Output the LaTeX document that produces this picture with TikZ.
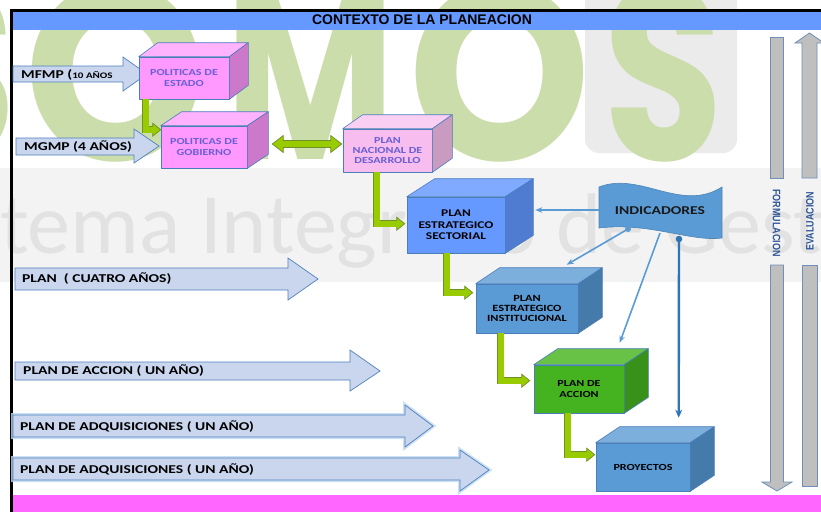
\documentclass[tikz,border=0pt]{standalone}
\usepackage{fontspec}
\usepackage{graphicx}
\setmainfont{Carlito}
\newfontfamily\boxfont[FakeStretch=1.3]{Carlito}
\newfontfamily\headfont{Liberation Sans}
\newfontfamily\markfont{Poppins}
\usetikzlibrary{calc,arrows.meta}

\definecolor{titleblue}{HTML}{6699FF}
\definecolor{barpink}{HTML}{FF66FF}
\definecolor{bandfill}{HTML}{C9D6EE}
\definecolor{bandline}{HTML}{4F81BD}
\definecolor{bandglow}{HTML}{BFD9F2}
\definecolor{pinkfront}{HTML}{FF99FF}
\definecolor{pinktop}{HTML}{FFB3FF}
\definecolor{pinkside}{HTML}{CC79CC}
\definecolor{rosefront}{HTML}{F7BDEF}
\definecolor{rosetop}{HTML}{F9CFF4}
\definecolor{roseside}{HTML}{C99BC0}
\definecolor{secfront}{HTML}{6699FF}
\definecolor{sectop}{HTML}{80AAFF}
\definecolor{secside}{HTML}{4F7CD0}
\definecolor{insfront}{HTML}{5B9BD5}
\definecolor{instop}{HTML}{7DAFDD}
\definecolor{insside}{HTML}{457BAA}
\definecolor{accfront}{HTML}{45B31F}
\definecolor{acctop}{HTML}{67C245}
\definecolor{accside}{HTML}{389219}
\definecolor{edgeblue}{HTML}{4A7EBB}
\definecolor{violettext}{HTML}{6A5FD3}
\definecolor{greenfill}{HTML}{99CC00}
\definecolor{greenline}{HTML}{6F8F2A}
\definecolor{lightarrow}{HTML}{5B9BD5}
\definecolor{darkarrow}{HTML}{2E75B6}
\definecolor{barfill}{HTML}{BFBFBF}
\definecolor{barline}{HTML}{6F8FB8}
\definecolor{vtext}{HTML}{2F5597}
\definecolor{markgreen}{HTML}{CBDDAB}
\definecolor{markgray}{HTML}{E2E2E2}
\definecolor{markband}{HTML}{F3F3F3}
\definecolor{markbox}{HTML}{EBEBEB}

% top and side faces of a box node: name, dx, dy, top colour, side colour
\newcommand{\cube}[5]{%
  \filldraw[cubeface,fill=#4] (#1.north west) -- ++(#2pt,#3pt) -- ([shift={(#2pt,#3pt)}]#1.north east) -- (#1.north east) -- cycle;
  \filldraw[cubeface,fill=#5] (#1.north east) -- ++(#2pt,#3pt) -- ([shift={(#2pt,#3pt)}]#1.south east) -- (#1.south east) -- cycle;}

% green elbow from coordinate #1 down and right to coordinate #2
\newcommand{\greenstep}[2]{%
  \draw[greenline,line width=7pt,line join=miter] (#1) |- ($(#2)+(-7pt,0)$);
  \filldraw[greenblock] (#2) -- ++(-8pt,6.5pt) -- ++(0,-13pt) -- cycle;
  \draw[greenfill,line width=5.6pt,line join=miter] (#1) |- ($(#2)+(-7pt,0)$);}

\begin{document}
\begin{tikzpicture}[x=1pt,y=-1pt,
  cubeface/.style={draw=edgeblue,line width=.6pt,line join=round},
  cubebox/.style={cubeface,inner sep=0pt,align=center,font=\boxfont\bfseries\fontsize{9.3}{10.3}\selectfont},
  bandarrow/.style={fill=bandfill,draw=bandline,line width=.7pt,line join=miter},
  bandlabel/.style={anchor=west,inner sep=0pt,font=\boxfont\bfseries\fontsize{12}{14}\selectfont},
  glow/.style={preaction={draw=bandglow,line width=4pt,opacity=.8}},
  greenblock/.style={fill=greenfill,draw=greenline,line width=.7pt,line join=miter},
  indarrow/.style={lightarrow,line width=1.6pt,-{Stealth[length=7pt,width=5.5pt]}},
  inddark/.style={darkarrow,line width=2.4pt,-{Stealth[length=8pt,width=7pt]}},
  grayshaft/.style={fill=barfill,draw=barline,line width=.8pt,line join=miter},
  sidetext/.style={inner sep=0pt,text=vtext,font=\headfont\bfseries\fontsize{9}{10}\selectfont},
  markletter/.style={inner sep=0pt,text=markgreen,font=\markfont\bfseries\fontsize{250}{250}\selectfont}]
\useasboundingbox (0,0) rectangle (821,512);

% watermark
\begin{scope}
\clip (0,0) rectangle (821,512);
\fill[white] (0,0) rectangle (821,512);
\fill[markband] (0,168) rectangle (821,282);
\fill[markbox,rounded corners=14pt] (585,-30) rectangle (737,153);
\node[markletter] (ws1) at (-48,72) {\scalebox{.85}[1]{S}};
\node[markletter] (wo1) at (116,72) {\scalebox{.93}[1]{O}};
\node[markletter] (wm) at (310,72) {\scalebox{.74}[1]{M}};
\node[markletter] (wo2) at (500,72) {\scalebox{.93}[1]{O}};
\node[markletter] (ws2) at (663,72) {\scalebox{.78}[1]{S}};
\node[anchor=base west,inner sep=0pt,text=markgray,font=\fontsize{86}{86}\selectfont] (wtext) at (-92,253) {Sistema Integrado de Gestión};
\end{scope}

% frame
\fill[black] (10,9) rectangle (821,11.5);
\fill[black] (10,9) rectangle (12.5,512);
\fill[titleblue] (12.5,11.5) rectangle (821,30);
\fill[barpink] (12.5,495) rectangle (821,512);
\node[inner sep=0pt,font=\headfont\bfseries\fontsize{14}{16}\selectfont] (title) at (422,20) {CONTEXTO DE LA PLANEACION};

% horizons
\filldraw[bandarrow] (13,66) -- (123,66) -- (123,57) -- (147,74) -- (123,91) -- (123,82) -- (13,82) -- cycle;
\filldraw[bandarrow] (16,138) -- (134,138) -- (134,129) -- (159,146) -- (134,163) -- (134,155) -- (16,155) -- cycle;
\filldraw[bandarrow] (15,268) -- (288,268) -- (288,258) -- (318,279) -- (288,300) -- (288,290) -- (15,290) -- cycle;
\filldraw[bandarrow] (15,362) -- (350,362) -- (350,350) -- (380,371) -- (350,391) -- (350,380) -- (15,380) -- cycle;
\filldraw[bandarrow,glow] (13,415) -- (405,415) -- (405,405) -- (433,426) -- (405,447) -- (405,437) -- (13,437) -- cycle;
\filldraw[bandarrow,glow] (13,458) -- (460,458) -- (460,450) -- (489,470) -- (460,491) -- (460,480) -- (13,480) -- cycle;

\node[bandlabel] (lmfmp) at (21,75) {MFMP (\fontsize{8.5}{10}\selectfont10 AÑOS};
\node[bandlabel] (lmgmp) at (24,147) {MGMP (4 AÑOS)};
\node[bandlabel] (lplan) at (22,279) {PLAN\ \ ( CUATRO AÑOS)};
\node[bandlabel] (laccion) at (23,371) {PLAN DE ACCION ( UN AÑO)};
\node[bandlabel] (ladq) at (20,427) {PLAN DE ADQUISICIONES ( UN AÑO)};
\node[bandlabel] (ladqb) at (20,470) {PLAN DE ADQUISICIONES ( UN AÑO)};

% boxes
\node[cubebox,fill=pinkfront,text=violettext,minimum width=90pt,minimum height=42pt] (pe) at (184,78) {POLITICAS DE\\ESTADO};
\cube{pe}{19}{14}{pinktop}{pinkside}
\node[cubebox,fill=pinkfront,text=violettext,minimum width=86pt,minimum height=42pt] (pg) at (204,147) {POLITICAS DE\\GOBIERNO};
\cube{pg}{21}{14}{pinktop}{pinkside}
\node[cubebox,fill=rosefront,text=violettext,minimum width=89pt,minimum height=43pt] (pn) at (387.5,150.5) {PLAN\\NACIONAL DE\\DESARROLLO};
\cube{pn}{20}{14}{rosetop}{roseside}
\node[cubebox,fill=secfront,minimum width=98pt,minimum height=56pt,font=\boxfont\bfseries\fontsize{10.3}{11.5}\selectfont] (ps) at (456,225) {PLAN\\ESTRATEGICO\\SECTORIAL};
\cube{ps}{28}{18}{sectop}{secside}
\node[cubebox,fill=insfront,minimum width=102pt,minimum height=49pt,font=\boxfont\bfseries\fontsize{9.5}{10}\selectfont] (pi) at (527,308.5) {PLAN\\ESTRATEGICO\\INSTITUCIONAL};
\cube{pi}{24}{16}{instop}{insside}
\node[cubebox,fill=accfront,minimum width=90pt,minimum height=48pt] (pa) at (579,389) {PLAN DE\\ACCION};
\cube{pa}{24}{16}{acctop}{accside}
\node[cubebox,fill=insfront,minimum width=94pt,minimum height=48pt] (pp) at (643,467) {PROYECTOS};
\cube{pp}{24}{16}{instop}{insside}

% green links
\coordinate (e1a) at ([xshift=7pt]pe.south west);
\coordinate (e1b) at ([yshift=-4pt]pg.north west);
\coordinate (e2a) at ([xshift=34pt]pn.south west);
\coordinate (e2b) at ([shift={(-2pt,-27pt)}]ps.north west);
\coordinate (e3a) at ([xshift=40pt]ps.south west);
\coordinate (e3b) at ([shift={(-3pt,-9pt)}]pi.north west);
\coordinate (e4a) at ([xshift=25pt]pi.south west);
\coordinate (e4b) at ([shift={(-4pt,-16pt)}]pa.north west);
\coordinate (e5a) at ([xshift=34pt]pa.south west);
\coordinate (e5b) at ([shift={(-1pt,-12pt)}]pp.north west);
\greenstep{e1a}{e1b}
\greenstep{e2a}{e2b}
\greenstep{e3a}{e3b}
\greenstep{e4a}{e4b}
\greenstep{e5a}{e5b}

\coordinate (gl) at ([shift={(25pt,3pt)}]pg.east);
\coordinate (gr) at ([shift={(-1pt,6.5pt)}]pn.west);
\filldraw[greenblock] (gl) -- ++(11pt,8.5pt) -- ++(0,-5pt) -- ($(gr)+(-11pt,3.5pt)$) -- ++(0,5pt) -- (gr) -- ++(-11pt,-8.5pt) -- ++(0,5pt) -- ($(gl)+(11pt,-3.5pt)$) -- ++(0,-5pt) -- cycle;

% indicadores
\filldraw[fill=insfront,draw=insfront!85!black,line width=.6pt] (599,187) .. controls (640,171) and (681,213) .. (722,187) -- (722,238) .. controls (690,242) and (650,222) .. (599,228) -- cycle;
\node[inner sep=0pt,text=black!90,font=\boxfont\bfseries\fontsize{12}{14}\selectfont] (ind) at (660,211) {INDICADORES};
\coordinate (iw) at (599,210);
\coordinate (d1) at (628,229);
\coordinate (d2) at (660,233);
\coordinate (d3) at (679,239);
\draw[indarrow] (iw) -- ([shift={(30pt,15pt)}]ps.east);
\fill[lightarrow] (d1) circle (3pt);
\draw[indarrow] (d1) -- ([shift={(91pt,19pt)}]pi.north west);
\draw[indarrow] (d2) -- ([shift={(86pt,22pt)}]pa.north west);
\fill[darkarrow] (d3) circle (3.3pt);
\draw[inddark] (d3) -- ([shift={(83pt,25pt)}]pp.north west);

% formulacion / evaluacion
\filldraw[grayshaft] (770.5,37) rectangle (783.5,178);
\filldraw[grayshaft] (770.5,265) -- (770.5,482) -- (762,482) -- (777,491) -- (792,482) -- (783.5,482) -- (783.5,265) -- cycle;
\filldraw[grayshaft] (802,178) -- (802,43) -- (795,43) -- (809.5,33) -- (824,43) -- (817,43) -- (817,178) -- cycle;
\filldraw[grayshaft] (802,265) rectangle (817,486);
\node[sidetext,rotate=-90] (tform) at (776.5,223) {\scalebox{1}[1.2]{FORMULACION}};
\node[sidetext,rotate=90] (teval) at (810,221) {\scalebox{1}[1.2]{EVALUACION}};
\end{tikzpicture}
\end{document}
